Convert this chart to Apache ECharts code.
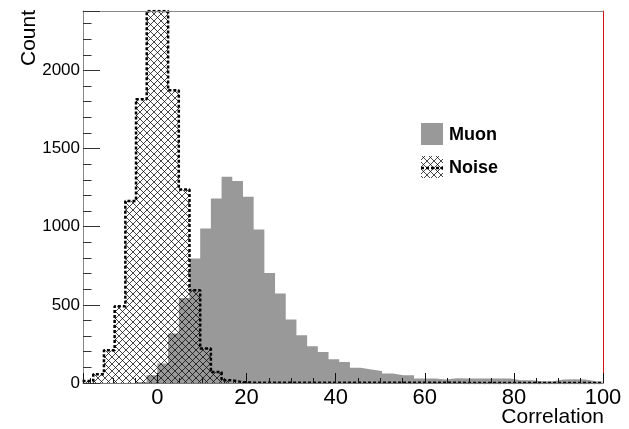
<!DOCTYPE html>
<html>
<head>
<meta charset="utf-8">
<script src="https://cdn.jsdelivr.net/npm/echarts@6/dist/echarts.min.js"></script>
<style>
  html, body { margin: 0; padding: 0; background: #fff; }
  #chart { width: 629px; height: 429px; }
</style>
</head>
<body>
<div id="chart"></div>
<script>
// histogram bins (width 2.4), counts
const binWidth = 2.4;
const muonStart = -4.8;
const muonCounts = [
  6, 50, 125, 316, 544, 796, 988, 1180, 1319, 1293,
  1191, 982, 704, 572, 406, 305, 235, 198, 152, 134,
  98, 86, 77, 60, 49, 49, 28, 28, 22, 30,
  28, 28, 28, 28, 28, 17, 17, 11, 11, 22,
  24, 22, 11, 6
];
const noiseStart = -16.8;
// the two central bins run off the top of the frame
const noiseCounts = [13, 56, 209, 491, 1165, 1816, 2380, 2380, 1873, 1238, 593, 220, 70, 17, 5, 2];

const xMin = -16.7, xMax = 100, yMax = 2380;
const font = "'Liberation Sans', Arial, sans-serif";

function histPoints(start, counts, end) {
  const pts = counts.map((c, i) => [start + i * binWidth, c]);
  pts.push([start + counts.length * binWidth, 0]);
  if (end !== undefined) pts.push([end, 0]);
  return pts;
}

// cross hatch used for the noise fill
function hatch() {
  const s = 7;
  const c = document.createElement("canvas");
  c.width = s;
  c.height = s;
  const ctx = c.getContext("2d");
  ctx.strokeStyle = "rgba(0,0,0,0.72)";
  ctx.lineWidth = 1;
  ctx.beginPath();
  ctx.moveTo(-1, -1);
  ctx.lineTo(s + 1, s + 1);
  ctx.moveTo(-1, s + 1);
  ctx.lineTo(s + 1, -1);
  ctx.stroke();
  return { image: c, repeat: "repeat" };
}
const hatchFill = hatch();

const chart = echarts.init(document.getElementById("chart"), null, { renderer: "canvas" });

const option = {
  animation: false,
  backgroundColor: "#fff",
  grid: { left: 83, right: 26, top: 11, bottom: 46 },
  xAxis: [
    {
      type: "value", min: xMin, max: xMax, splitNumber: 5, position: "bottom", z: 5,
      splitLine: { show: false },
      axisLine: { show: true, onZero: false, lineStyle: { color: "#777", width: 1 } },
      axisTick: { show: true, inside: true, length: 10, lineStyle: { color: "#111", width: 1 } },
      minorTick: { show: true, splitNumber: 4, length: 5, lineStyle: { color: "#111", width: 1 } },
      axisLabel: { show: true, showMinLabel: false, margin: 4,
        color: "#000", fontSize: 22, fontFamily: font }
    },
    {
      type: "value", min: xMin, max: xMax, position: "top", z: 5,
      splitLine: { show: false },
      axisLine: { show: true, onZero: false, lineStyle: { color: "#888", width: 1 } },
      axisTick: { show: false },
      axisLabel: { show: false }
    }
  ],
  yAxis: [
    {
      type: "value", min: 0, max: yMax, interval: 500, position: "left", z: 5,
      splitLine: { show: false },
      axisLine: { show: true, onZero: false, lineStyle: { color: "#888", width: 1 } },
      axisTick: { show: true, inside: true, length: 17, lineStyle: { color: "#333" } },
      minorTick: { show: true, splitNumber: 5, length: 8.5, lineStyle: { color: "#333" } },
      axisLabel: { show: true, showMaxLabel: false, margin: 3,
        color: "#000", fontSize: 17, fontFamily: font,
        formatter: (v) => String(v) }
    },
    {
      type: "value", min: 0, max: yMax, position: "right", z: 5,
      splitLine: { show: false },
      axisLine: { show: true, onZero: false, lineStyle: { color: "#d41414", width: 1 } },
      axisTick: { show: false },
      axisLabel: { show: false }
    }
  ],
  series: [
    {
      name: "Muon",
      type: "line",
      step: "end",
      xAxisIndex: 0,
      yAxisIndex: 0,
      data: histPoints(muonStart, muonCounts),
      symbol: "none",
      silent: true,
      z: 2,
      lineStyle: { color: "#999", width: 1, opacity: 0 },
      areaStyle: { color: "#999", opacity: 1 }
    },
    {
      name: "Noise",
      type: "line",
      step: "end",
      xAxisIndex: 0,
      yAxisIndex: 0,
      data: histPoints(noiseStart, noiseCounts, xMax),
      symbol: "none",
      silent: true,
      z: 3,
      lineStyle: { color: "#000", width: 2.5, type: [3, 2] },
      areaStyle: { color: hatchFill, opacity: 1 }
    }
  ],
  graphic: [
    {
      type: "text", x: 40, y: 10, rotation: Math.PI / 2,
      style: { text: "Count", font: "21px " + font, fill: "#000",
        textAlign: "right", textVerticalAlign: "bottom" }
    },
    {
      type: "text", x: 604, y: 407,
      style: { text: "Correlation", font: "21px " + font, fill: "#000",
        textAlign: "right", textVerticalAlign: "top" }
    },
    // legend
    { type: "rect", shape: { x: 421, y: 123, width: 22, height: 22 }, style: { fill: "#999" } },
    {
      type: "text", x: 449, y: 135,
      style: { text: "Muon", font: "bold 18px " + font, fill: "#000", textVerticalAlign: "middle" }
    },
    { type: "rect", shape: { x: 421, y: 156, width: 22, height: 22 }, style: { fill: hatchFill } },
    {
      type: "line", shape: { x1: 421, y1: 168, x2: 443, y2: 168 },
      style: { stroke: "#000", lineWidth: 2.5, lineDash: [3, 2] }
    },
    {
      type: "text", x: 449, y: 168,
      style: { text: "Noise", font: "bold 18px " + font, fill: "#000", textVerticalAlign: "middle" }
    }
  ]
};

chart.setOption(option);
</script>
</body>
</html>
